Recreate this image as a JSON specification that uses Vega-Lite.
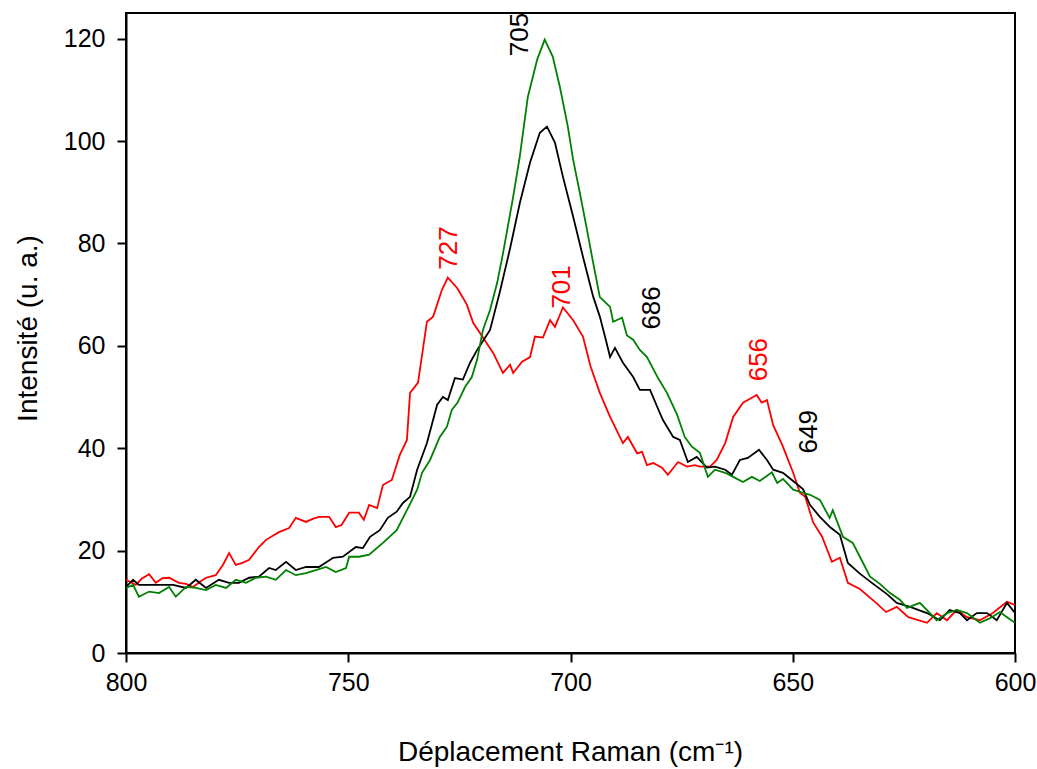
{
  "$schema": "https://vega.github.io/schema/vega-lite/v6.json",
  "width": 889,
  "height": 640,
  "autosize": {"type": "none"},
  "padding": {"left": 126, "top": 13, "right": 22, "bottom": 116},
  "background": "white",
  "config": {
    "view": {"stroke": "black", "strokeWidth": 2},
    "font": "Liberation Sans",
    "axis": {
      "domainColor": "black",
      "domainWidth": 2,
      "tickColor": "black",
      "tickWidth": 2,
      "tickSize": 9,
      "grid": false,
      "labelFont": "Liberation Sans",
      "labelFontSize": 25,
      "labelColor": "black",
      "titleFont": "Liberation Sans",
      "titleFontSize": 28,
      "titleFontWeight": "normal",
      "titleColor": "black"
    }
  },
  "layer": [
    {
      "data": {
        "values": [
          {"serie":"r","x":800,"y":14.3},{"serie":"r","x":797.8,"y":13.3},{"serie":"r","x":796.5,"y":14.5},{"serie":"r","x":794.8,"y":15.4},{"serie":"r","x":793.3,"y":13.7},{"serie":"r","x":791.8,"y":14.6},{"serie":"r","x":790.3,"y":14.7},{"serie":"r","x":788.1,"y":13.7},{"serie":"r","x":786.5,"y":13.5},{"serie":"r","x":784.9,"y":12.9},{"serie":"r","x":783.5,"y":13.8},{"serie":"r","x":782,"y":14.7},{"serie":"r","x":779.8,"y":15.2},{"serie":"r","x":778.2,"y":17.2},{"serie":"r","x":776.8,"y":19.5},{"serie":"r","x":775.3,"y":17.2},{"serie":"r","x":773.8,"y":17.6},{"serie":"r","x":772.3,"y":18.2},{"serie":"r","x":770.1,"y":20.7},{"serie":"r","x":768.5,"y":22.1},{"serie":"r","x":765.6,"y":23.6},{"serie":"r","x":763.3,"y":24.4},{"serie":"r","x":761.8,"y":26.4},{"serie":"r","x":759.5,"y":25.6},{"serie":"r","x":758,"y":26.2},{"serie":"r","x":756.6,"y":26.6},{"serie":"r","x":754.3,"y":26.6},{"serie":"r","x":752.8,"y":24.6},{"serie":"r","x":751.5,"y":25},{"serie":"r","x":749.8,"y":27.4},{"serie":"r","x":747.6,"y":27.4},{"serie":"r","x":746.5,"y":26},{"serie":"r","x":745.3,"y":28.9},{"serie":"r","x":743.5,"y":28.3},{"serie":"r","x":742.2,"y":32.8},{"serie":"r","x":740.2,"y":33.8},{"serie":"r","x":738.4,"y":38.7},{"serie":"r","x":736.8,"y":41.6},{"serie":"r","x":736.1,"y":50.8},{"serie":"r","x":734.3,"y":52.8},{"serie":"r","x":732.3,"y":64.7},{"serie":"r","x":730.9,"y":65.7},{"serie":"r","x":728.9,"y":71},{"serie":"r","x":727.6,"y":73.3},{"serie":"r","x":725.5,"y":71.3},{"serie":"r","x":724.2,"y":69.4},{"serie":"r","x":723.3,"y":68},{"serie":"r","x":721.9,"y":64.5},{"serie":"r","x":719.7,"y":61.6},{"serie":"r","x":717.4,"y":58.6},{"serie":"r","x":715.2,"y":54.7},{"serie":"r","x":713.6,"y":56.3},{"serie":"r","x":712.9,"y":54.7},{"serie":"r","x":710.9,"y":56.9},{"serie":"r","x":709.1,"y":57.8},{"serie":"r","x":708,"y":61.8},{"serie":"r","x":706.2,"y":61.6},{"serie":"r","x":704.6,"y":65},{"serie":"r","x":703.5,"y":63.7},{"serie":"r","x":701.7,"y":67.5},{"serie":"r","x":699.4,"y":65},{"serie":"r","x":697.2,"y":61.8},{"serie":"r","x":695.5,"y":56},{"serie":"r","x":693.4,"y":50.8},{"serie":"r","x":691.1,"y":46.1},{"serie":"r","x":688.2,"y":41},{"serie":"r","x":687.1,"y":42.2},{"serie":"r","x":685,"y":39},{"serie":"r","x":683.9,"y":39.3},{"serie":"r","x":682.8,"y":36.7},{"serie":"r","x":681.4,"y":37.1},{"serie":"r","x":679.4,"y":36.2},{"serie":"r","x":678.1,"y":34.8},{"serie":"r","x":675.8,"y":37.3},{"serie":"r","x":673.8,"y":36.4},{"serie":"r","x":672,"y":36.7},{"serie":"r","x":670.9,"y":36.4},{"serie":"r","x":668.6,"y":36.4},{"serie":"r","x":667.1,"y":37.7},{"serie":"r","x":665.2,"y":41},{"serie":"r","x":663.4,"y":46.1},{"serie":"r","x":661.2,"y":48.9},{"serie":"r","x":658.9,"y":50},{"serie":"r","x":658.1,"y":50.4},{"serie":"r","x":657,"y":48.9},{"serie":"r","x":655.8,"y":49.4},{"serie":"r","x":654.4,"y":44.5},{"serie":"r","x":652.3,"y":40.5},{"serie":"r","x":649.9,"y":35.2},{"serie":"r","x":648.4,"y":31.3},{"serie":"r","x":647.2,"y":30.5},{"serie":"r","x":645.4,"y":25.5},{"serie":"r","x":643.4,"y":22.7},{"serie":"r","x":641.2,"y":17.8},{"serie":"r","x":639.4,"y":18.6},{"serie":"r","x":637.6,"y":13.7},{"serie":"r","x":634.9,"y":12.5},{"serie":"r","x":631.5,"y":10},{"serie":"r","x":629,"y":8},{"serie":"r","x":626.6,"y":9},{"serie":"r","x":624,"y":7},{"serie":"r","x":619.8,"y":5.9},{"serie":"r","x":617.6,"y":7.8},{"serie":"r","x":615.3,"y":6.4},{"serie":"r","x":613.1,"y":8.4},{"serie":"r","x":610.8,"y":7},{"serie":"r","x":607.9,"y":6.4},{"serie":"r","x":605,"y":7.8},{"serie":"r","x":601.8,"y":10},{"serie":"r","x":600,"y":9.4},
          {"serie":"b","x":800,"y":12.9},{"serie":"b","x":798.4,"y":14.3},{"serie":"b","x":797.1,"y":13.3},{"serie":"b","x":793.9,"y":13.3},{"serie":"b","x":789.4,"y":13.3},{"serie":"b","x":786.5,"y":12.7},{"serie":"b","x":784.3,"y":14.3},{"serie":"b","x":782,"y":12.7},{"serie":"b","x":779.1,"y":14.3},{"serie":"b","x":776.8,"y":13.7},{"serie":"b","x":774.6,"y":13.7},{"serie":"b","x":772.3,"y":14.7},{"serie":"b","x":770.1,"y":14.9},{"serie":"b","x":767.8,"y":16.6},{"serie":"b","x":766.3,"y":16.2},{"serie":"b","x":764,"y":17.8},{"serie":"b","x":761.8,"y":16.2},{"serie":"b","x":759.5,"y":16.8},{"serie":"b","x":756.6,"y":16.8},{"serie":"b","x":753.4,"y":18.6},{"serie":"b","x":751.2,"y":18.8},{"serie":"b","x":748.3,"y":20.7},{"serie":"b","x":746.7,"y":20.5},{"serie":"b","x":745.1,"y":22.7},{"serie":"b","x":742.9,"y":24},{"serie":"b","x":741.1,"y":26.4},{"serie":"b","x":739.1,"y":27.6},{"serie":"b","x":737.7,"y":29.3},{"serie":"b","x":736.1,"y":30.5},{"serie":"b","x":734.5,"y":35.8},{"serie":"b","x":732.3,"y":41},{"serie":"b","x":730,"y":48.5},{"serie":"b","x":728.7,"y":50},{"serie":"b","x":727.6,"y":49.4},{"serie":"b","x":726,"y":53.7},{"serie":"b","x":724.2,"y":53.4},{"serie":"b","x":722.6,"y":56.7},{"serie":"b","x":721,"y":59.2},{"serie":"b","x":719.2,"y":61.6},{"serie":"b","x":718.1,"y":63.1},{"serie":"b","x":715.9,"y":70.5},{"serie":"b","x":713.6,"y":79},{"serie":"b","x":711.4,"y":87.9},{"serie":"b","x":709.1,"y":95.8},{"serie":"b","x":706.9,"y":101.6},{"serie":"b","x":705.3,"y":102.8},{"serie":"b","x":703.5,"y":99.7},{"serie":"b","x":701.7,"y":93},{"serie":"b","x":699.4,"y":85.2},{"serie":"b","x":697.2,"y":77.4},{"serie":"b","x":694.9,"y":69.6},{"serie":"b","x":693.4,"y":65.7},{"serie":"b","x":692,"y":61},{"serie":"b","x":691.1,"y":57.8},{"serie":"b","x":690,"y":59.6},{"serie":"b","x":688.2,"y":56.7},{"serie":"b","x":685.9,"y":53.9},{"serie":"b","x":684.4,"y":51.4},{"serie":"b","x":682.1,"y":51.4},{"serie":"b","x":680.5,"y":48.1},{"serie":"b","x":679.2,"y":45.5},{"serie":"b","x":676.9,"y":42.2},{"serie":"b","x":675.4,"y":41.6},{"serie":"b","x":673.6,"y":37.3},{"serie":"b","x":671.6,"y":38.3},{"serie":"b","x":669.3,"y":36.2},{"serie":"b","x":667.5,"y":36.4},{"serie":"b","x":665.2,"y":35.8},{"serie":"b","x":663.7,"y":34.8},{"serie":"b","x":661.9,"y":37.7},{"serie":"b","x":660.1,"y":38.1},{"serie":"b","x":657.6,"y":39.7},{"serie":"b","x":655.8,"y":37.7},{"serie":"b","x":654.4,"y":35.8},{"serie":"b","x":652.2,"y":35.2},{"serie":"b","x":650.2,"y":33.8},{"serie":"b","x":647.7,"y":32},{"serie":"b","x":646.1,"y":28.9},{"serie":"b","x":643.9,"y":26.6},{"serie":"b","x":641.5,"y":24.5},{"serie":"b","x":639.4,"y":23.1},{"serie":"b","x":637.6,"y":17.6},{"serie":"b","x":634.9,"y":15.5},{"serie":"b","x":631.9,"y":13.5},{"serie":"b","x":628.8,"y":11.5},{"serie":"b","x":626.6,"y":9.8},{"serie":"b","x":623.6,"y":9},{"serie":"b","x":619.8,"y":7.8},{"serie":"b","x":616.9,"y":6.4},{"serie":"b","x":614.7,"y":8.4},{"serie":"b","x":612.4,"y":7.8},{"serie":"b","x":610.8,"y":6.4},{"serie":"b","x":608.6,"y":7.8},{"serie":"b","x":606.3,"y":7.8},{"serie":"b","x":604.1,"y":6.4},{"serie":"b","x":601.8,"y":9.8},{"serie":"b","x":600,"y":7.8},
          {"serie":"g","x":800,"y":12.7},{"serie":"g","x":798.4,"y":13.3},{"serie":"g","x":797.1,"y":11},{"serie":"g","x":794.8,"y":12},{"serie":"g","x":792.6,"y":11.7},{"serie":"g","x":790.3,"y":12.9},{"serie":"g","x":788.8,"y":11},{"serie":"g","x":786.5,"y":12.9},{"serie":"g","x":784.3,"y":12.7},{"serie":"g","x":782,"y":12.3},{"serie":"g","x":779.8,"y":13.3},{"serie":"g","x":777.5,"y":12.7},{"serie":"g","x":775.3,"y":14.3},{"serie":"g","x":773,"y":13.7},{"serie":"g","x":770.8,"y":14.7},{"serie":"g","x":768.5,"y":14.9},{"serie":"g","x":766.3,"y":14.3},{"serie":"g","x":764,"y":16.2},{"serie":"g","x":761.8,"y":15.2},{"serie":"g","x":759.5,"y":15.6},{"serie":"g","x":757.3,"y":16.2},{"serie":"g","x":755,"y":16.8},{"serie":"g","x":752.8,"y":15.8},{"serie":"g","x":750.5,"y":16.6},{"serie":"g","x":749.8,"y":18.8},{"serie":"g","x":747.6,"y":18.8},{"serie":"g","x":745.3,"y":19.2},{"serie":"g","x":742.2,"y":21.5},{"serie":"g","x":739.1,"y":24},{"serie":"g","x":736.8,"y":27.9},{"serie":"g","x":734.5,"y":31.9},{"serie":"g","x":733.4,"y":35.2},{"serie":"g","x":731.6,"y":37.7},{"serie":"g","x":729.4,"y":42.2},{"serie":"g","x":727.8,"y":44.2},{"serie":"g","x":726.7,"y":47.5},{"serie":"g","x":725.4,"y":48.9},{"serie":"g","x":723.7,"y":52},{"serie":"g","x":722.2,"y":53.9},{"serie":"g","x":721,"y":57.3},{"serie":"g","x":719.7,"y":63.1},{"serie":"g","x":718.1,"y":67},{"serie":"g","x":716.5,"y":72.3},{"serie":"g","x":715.2,"y":78},{"serie":"g","x":712.9,"y":89.1},{"serie":"g","x":711.4,"y":97},{"serie":"g","x":709.6,"y":108.6},{"serie":"g","x":707.5,"y":115.9},{"serie":"g","x":705.8,"y":119.8},{"serie":"g","x":704,"y":116.5},{"serie":"g","x":702.4,"y":110.6},{"serie":"g","x":700.6,"y":102.8},{"serie":"g","x":699.4,"y":96.3},{"serie":"g","x":697.9,"y":89.9},{"serie":"g","x":696.3,"y":82.7},{"serie":"g","x":694.9,"y":76.2},{"serie":"g","x":693.4,"y":69.5},{"serie":"g","x":691.1,"y":67.6},{"serie":"g","x":690.4,"y":64.7},{"serie":"g","x":688.4,"y":65.5},{"serie":"g","x":687.3,"y":62},{"serie":"g","x":685.9,"y":61.2},{"serie":"g","x":684.4,"y":59.2},{"serie":"g","x":682.8,"y":57.8},{"serie":"g","x":680.3,"y":53.7},{"serie":"g","x":678.3,"y":50.8},{"serie":"g","x":676,"y":46.5},{"serie":"g","x":674.3,"y":42.2},{"serie":"g","x":672.7,"y":40.3},{"serie":"g","x":670.9,"y":39.1},{"serie":"g","x":669.1,"y":34.4},{"serie":"g","x":667.5,"y":35.8},{"serie":"g","x":665.2,"y":35.2},{"serie":"g","x":663.4,"y":34.4},{"serie":"g","x":661.2,"y":33.4},{"serie":"g","x":659.2,"y":34.4},{"serie":"g","x":657.4,"y":33.6},{"serie":"g","x":654.7,"y":35.3},{"serie":"g","x":653.5,"y":33.2},{"serie":"g","x":652.2,"y":34},{"serie":"g","x":649.9,"y":31.9},{"serie":"g","x":647.7,"y":31.3},{"serie":"g","x":646.1,"y":30.9},{"serie":"g","x":643.9,"y":29.9},{"serie":"g","x":641.7,"y":26.4},{"serie":"g","x":641,"y":27.9},{"serie":"g","x":638.7,"y":22.7},{"serie":"g","x":636.5,"y":21.5},{"serie":"g","x":634.9,"y":18.8},{"serie":"g","x":632.6,"y":14.9},{"serie":"g","x":630.4,"y":13.5},{"serie":"g","x":628.1,"y":11.7},{"serie":"g","x":625.9,"y":10.4},{"serie":"g","x":624.3,"y":8.8},{"serie":"g","x":621.4,"y":9.8},{"serie":"g","x":617.6,"y":6.4},{"serie":"g","x":615.3,"y":7.8},{"serie":"g","x":613.1,"y":8.4},{"serie":"g","x":610.8,"y":7.8},{"serie":"g","x":607.9,"y":5.9},{"serie":"g","x":605.6,"y":6.8},{"serie":"g","x":603.4,"y":8},{"serie":"g","x":601.8,"y":7},{"serie":"g","x":600,"y":5.9}
        ]
      },
      "mark": {"type": "line", "strokeWidth": 1.8, "clip": true},
      "encoding": {
        "x": {
          "field": "x", "type": "quantitative",
          "scale": {"domain": [600, 800], "reverse": true, "nice": false, "zero": false},
          "axis": {"values": [600, 650, 700, 750, 800], "labelPadding": 8, "labelFlush": false,
                   "title": "Déplacement Raman (cm⁻¹)", "titleX": 444, "titleY": 99, "titleBaseline": "middle", "titleAlign": "center"}
        },
        "y": {
          "field": "y", "type": "quantitative",
          "scale": {"domain": [0, 125], "nice": false},
          "axis": {"values": [0, 20, 40, 60, 80, 100, 120], "labelPadding": 12, "labelFlush": false,
                   "title": "Intensité (u. a.)", "titleX": -98, "titleY": 315, "titleAngle": -90, "titleBaseline": "middle", "titleAlign": "center"}
        },
        "color": {
          "field": "serie", "type": "nominal",
          "scale": {"domain": ["g", "b", "r"], "range": ["#008000", "#000000", "#ff0000"]},
          "legend": null
        }
      }
    },
    {
      "data": {
        "values": [
          {"serie":"b","x":711.4,"y":120.8,"t":"705"},
          {"serie":"r","x":727.3,"y":79.1,"t":"727"},
          {"serie":"r","x":701.9,"y":71.5,"t":"701"},
          {"serie":"b","x":681.7,"y":67.4,"t":"686"},
          {"serie":"r","x":657.6,"y":57.3,"t":"656"},
          {"serie":"b","x":646.3,"y":43.2,"t":"649"}
        ]
      },
      "mark": {"type": "text", "angle": 270, "align": "center", "baseline": "middle", "fontSize": 26, "font": "Liberation Sans"},
      "encoding": {
        "x": {"field": "x", "type": "quantitative"},
        "y": {"field": "y", "type": "quantitative"},
        "text": {"field": "t"},
        "color": {"field": "serie", "type": "nominal", "legend": null}
      }
    }
  ]
}
